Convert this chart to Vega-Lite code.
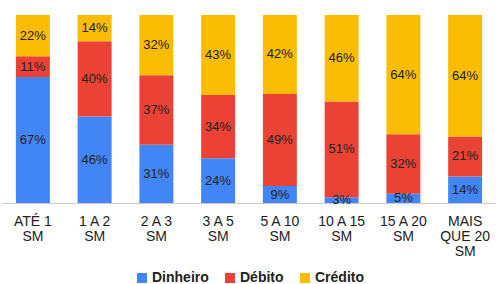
{
  "$schema": "https://vega.github.io/schema/vega-lite/v6.json",
  "width": 494,
  "height": 188,
  "autosize": {"type": "none"},
  "padding": {"top": 15, "left": 2, "right": 0, "bottom": 81},
  "background": "white",
  "config": {"view": {"stroke": null}, "font": "Liberation Sans"},
  "data": {
    "values": [
      {"faixa": "ATÉ 1 SM", "tipo": "Dinheiro", "ordem": 1, "pct": 0.67},
      {"faixa": "ATÉ 1 SM", "tipo": "Débito", "ordem": 2, "pct": 0.11},
      {"faixa": "ATÉ 1 SM", "tipo": "Crédito", "ordem": 3, "pct": 0.22},
      {"faixa": "1 A 2 SM", "tipo": "Dinheiro", "ordem": 1, "pct": 0.46},
      {"faixa": "1 A 2 SM", "tipo": "Débito", "ordem": 2, "pct": 0.40},
      {"faixa": "1 A 2 SM", "tipo": "Crédito", "ordem": 3, "pct": 0.14},
      {"faixa": "2 A 3 SM", "tipo": "Dinheiro", "ordem": 1, "pct": 0.31},
      {"faixa": "2 A 3 SM", "tipo": "Débito", "ordem": 2, "pct": 0.37},
      {"faixa": "2 A 3 SM", "tipo": "Crédito", "ordem": 3, "pct": 0.32},
      {"faixa": "3 A 5 SM", "tipo": "Dinheiro", "ordem": 1, "pct": 0.24},
      {"faixa": "3 A 5 SM", "tipo": "Débito", "ordem": 2, "pct": 0.34},
      {"faixa": "3 A 5 SM", "tipo": "Crédito", "ordem": 3, "pct": 0.43},
      {"faixa": "5 A 10 SM", "tipo": "Dinheiro", "ordem": 1, "pct": 0.09},
      {"faixa": "5 A 10 SM", "tipo": "Débito", "ordem": 2, "pct": 0.49},
      {"faixa": "5 A 10 SM", "tipo": "Crédito", "ordem": 3, "pct": 0.42},
      {"faixa": "10 A 15 SM", "tipo": "Dinheiro", "ordem": 1, "pct": 0.03},
      {"faixa": "10 A 15 SM", "tipo": "Débito", "ordem": 2, "pct": 0.51},
      {"faixa": "10 A 15 SM", "tipo": "Crédito", "ordem": 3, "pct": 0.46},
      {"faixa": "15 A 20 SM", "tipo": "Dinheiro", "ordem": 1, "pct": 0.05},
      {"faixa": "15 A 20 SM", "tipo": "Débito", "ordem": 2, "pct": 0.32},
      {"faixa": "15 A 20 SM", "tipo": "Crédito", "ordem": 3, "pct": 0.64},
      {"faixa": "MAIS QUE 20 SM", "tipo": "Dinheiro", "ordem": 1, "pct": 0.14},
      {"faixa": "MAIS QUE 20 SM", "tipo": "Débito", "ordem": 2, "pct": 0.21},
      {"faixa": "MAIS QUE 20 SM", "tipo": "Crédito", "ordem": 3, "pct": 0.64}
    ]
  },
  "encoding": {
    "x": {
      "field": "faixa",
      "type": "nominal",
      "sort": null,
      "scale": {"paddingInner": 0.45, "paddingOuter": 0.225},
      "axis": {
        "title": null,
        "labelAngle": 0,
        "ticks": false,
        "domainColor": "#cccccc",
        "labelColor": "#222222",
        "labelFontSize": 14,
        "labelFont": "Liberation Sans",
        "labelLineHeight": 15,
        "labelPadding": 11,
        "labelExpr": "datum.value == 'MAIS QUE 20 SM' ? ['MAIS', 'QUE 20', 'SM'] : [replace(datum.value, ' SM', ''), 'SM']"
      }
    },
    "y": {
      "field": "pct",
      "type": "quantitative",
      "stack": "normalize",
      "axis": null
    },
    "order": {"field": "ordem", "type": "quantitative"}
  },
  "layer": [
    {
      "mark": {"type": "bar"},
      "encoding": {
        "color": {
          "field": "tipo",
          "type": "nominal",
          "scale": {
            "domain": ["Dinheiro", "Débito", "Crédito"],
            "range": ["#4285F4", "#EA4335", "#FBBC04"]
          },
          "legend": {
            "title": null,
            "orient": "none",
            "legendX": 133,
            "legendY": 256,
            "direction": "horizontal",
            "symbolType": "square",
            "symbolSize": 100,
            "symbolStrokeWidth": 0,
            "labelFontSize": 14,
            "labelFontWeight": "bold",
            "labelColor": "#222222",
            "labelFont": "Liberation Sans",
            "columnPadding": 14,
            "labelOffset": 3
          }
        }
      }
    },
    {
      "mark": {"type": "text", "fontSize": 13, "color": "#222222", "baseline": "middle"},
      "encoding": {
        "y": {"field": "pct", "type": "quantitative", "stack": "normalize", "bandPosition": 0.5},
        "text": {"field": "pct", "type": "quantitative", "format": ".0%"}
      }
    }
  ]
}
